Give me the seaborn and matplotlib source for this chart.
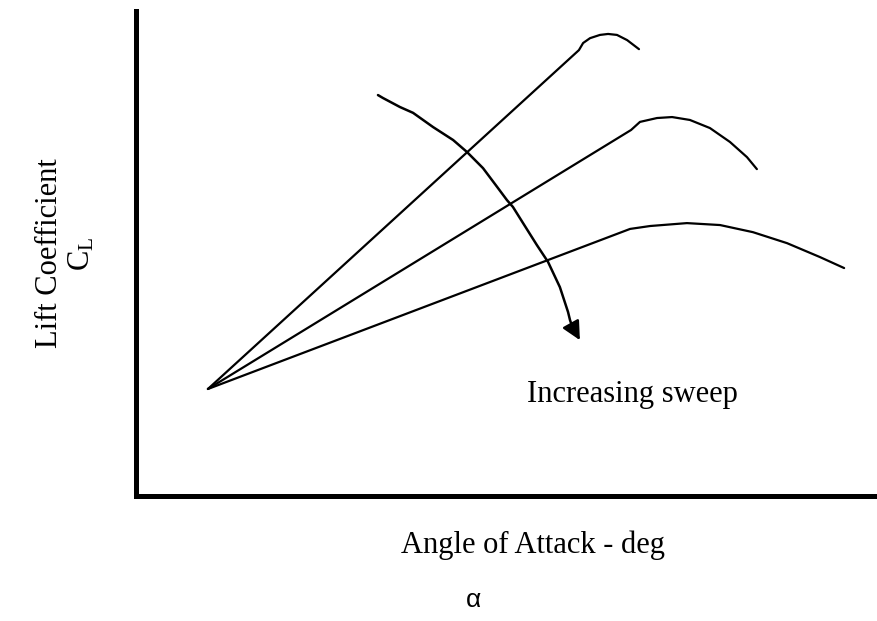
import numpy as np
import pandas as pd
import matplotlib
matplotlib.use("Agg")
import matplotlib.pyplot as plt
import seaborn as sns

# curves: alpha (deg, arbitrary scale) vs CL
alpha_low = [2.93, 20.01, 20.82, 22.31, 23.65, 24.98, 26.36, 27.69, 28.67]
cl_low = [0.331, 0.826, 0.835, 0.844, 0.838, 0.816, 0.782, 0.739, 0.705]

alpha_mid = [2.93, 20.05, 20.41, 21.10, 21.71, 22.43, 23.24, 24.05, 24.74, 25.14]
cl_mid = [0.331, 1.132, 1.157, 1.169, 1.172, 1.163, 1.138, 1.095, 1.048, 1.011]

alpha_high = [2.93, 17.94, 18.11, 18.39, 18.79, 19.12, 19.48, 19.89, 20.37]
cl_high = [0.331, 1.379, 1.401, 1.416, 1.426, 1.429, 1.426, 1.410, 1.382]

# hand drawn "increasing sweep" arrow
alpha_arrow = [9.81, 10.01, 10.70, 11.23, 12.04, 12.85, 13.41, 14.06, 14.63,
               15.03, 15.27, 15.68, 16.24, 16.69, 17.17, 17.50, 17.58, 17.66]
cl_arrow = [1.240, 1.231, 1.203, 1.185, 1.141, 1.101, 1.064, 1.014, 0.956,
            0.915, 0.894, 0.844, 0.776, 0.724, 0.646, 0.569, 0.544, 0.526]
arrow_tip = (17.98, 0.482)

sns.set_style("white")
plt.rcParams["font.family"] = ["Liberation Serif", "DejaVu Serif"]
plt.rcParams["mathtext.fontset"] = "custom"
plt.rcParams["mathtext.rm"] = "Liberation Serif"
plt.rcParams["text.color"] = "black"
plt.rcParams["axes.labelcolor"] = "black"

fig = plt.figure(figsize=(8.77, 6.21), dpi=100)
ax = fig.add_axes([135.5 / 877, 1 - 496 / 621, 1 - 135.5 / 877, (496 - 11) / 621])

for a, c in [(alpha_low, cl_low), (alpha_mid, cl_mid), (alpha_high, cl_high)]:
    df = pd.DataFrame({"alpha": a, "cl": c})
    sns.lineplot(data=df, x="alpha", y="cl", sort=False, color="black", lw=1.6,
                 solid_joinstyle="round", ax=ax)

arr = pd.DataFrame({"alpha": alpha_arrow, "cl": cl_arrow})
sns.lineplot(data=arr, x="alpha", y="cl", sort=False, color="black", lw=1.8,
             solid_joinstyle="round", ax=ax)
ax.annotate("", xy=arrow_tip, xytext=(alpha_arrow[-1], cl_arrow[-1]),
            arrowprops=dict(arrowstyle="-|>", color="black", lw=1.8, mutation_scale=28,
                            shrinkA=0, shrinkB=0))

ax.text(15.84, 0.291, "Increasing sweep", fontsize=22, color="black",
        ha="left", va="baseline")

ax.set_xlim(0, 30)
ax.set_ylim(0, 1.5)
ax.set_xticks([])
ax.set_yticks([])
sns.despine(ax=ax)
for s in ["left", "bottom"]:
    ax.spines[s].set_linewidth(3.6)
    ax.spines[s].set_color("black")

ax.set_xlabel("Angle of Attack - deg", fontsize=22)
ax.xaxis.set_label_coords((533 - 135.5) / 741.5, (496 - 530) / 485)
ax.set_ylabel("Lift Coefficient\n$\\mathregular{C_L}$", fontsize=22, linespacing=1.1)
ax.yaxis.set_label_coords((96 - 135.5) / 741.5, 0.5)

fig.text(474 / 877, 1 - 600 / 621, "α", fontsize=19, family="Liberation Sans",
         color="black", ha="center", va="center")

fig.savefig("out.png", dpi=100)
